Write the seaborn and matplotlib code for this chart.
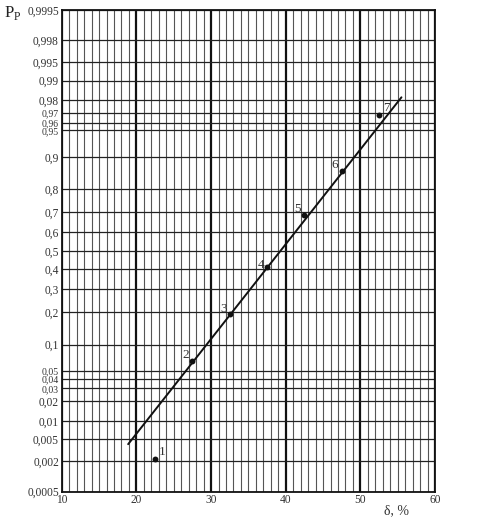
import numpy as np
import pandas as pd
import matplotlib
matplotlib.use("Agg")
import matplotlib.pyplot as plt
import seaborn as sns
from statistics import NormalDist

# ---- data ----
point_ids = ["1", "2", "3", "4", "5", "6", "7"]
delta_pts = [22.5, 27.5, 32.5, 37.5, 42.5, 47.5, 52.5]
prob_pts = [0.0022, 0.066, 0.195, 0.41, 0.685, 0.862, 0.968]
line_delta = [18.9, 55.5]
line_prob = [0.0041, 0.982]
y_ticks = [0.0005, 0.002, 0.005, 0.01, 0.02, 0.03, 0.04, 0.05, 0.1, 0.2, 0.3,
           0.4, 0.5, 0.6, 0.7, 0.8, 0.9, 0.95, 0.96, 0.97, 0.98, 0.99, 0.995,
           0.998, 0.9995]
y_labels = ["0,0005", "0,002", "0,005", "0,01", "0,02", "0,03", "0,04", "0,05",
            "0,1", "0,2", "0,3", "0,4", "0,5", "0,6", "0,7", "0,8", "0,9",
            "0,95", "0,96", "0,97", "0,98", "0,99", "0,995", "0,998", "0,9995"]
crowded_labels = ["0,03", "0,04", "0,05", "0,95", "0,96", "0,97"]
x_ticks = [10, 20, 30, 40, 50, 60]
label_offsets = [(5, 5), (-5, 4.5), (-4.5, 3), (-4.5, 1.5), (-5, 5), (-5, 4.5), (5, 5)]

sns.set_style("white")
plt.rcParams['font.family'] = ['Liberation Serif', 'DejaVu Serif']

_nd = NormalDist()
_ppf = np.vectorize(_nd.inv_cdf, otypes=[float])
_cdf = np.vectorize(_nd.cdf, otypes=[float])


def fwd(p):
    p = np.clip(np.asarray(p, dtype=float), 1e-12, 1 - 1e-12)
    return _ppf(p)


def inv(z):
    return _cdf(np.asarray(z, dtype=float))


fig = plt.figure(figsize=(4.96, 5.25), dpi=100)
ax = fig.add_axes([0.1244, 0.0638, 0.7527, 0.9172])
ax.set_yscale("function", functions=(fwd, inv))
ax.set_ylim(0.0005, 0.9995)
ax.set_xlim(10, 60)

# grid
ax.set_yticks(y_ticks)
ax.set_yticklabels(y_labels)
ax.set_xticks(x_ticks)
ax.set_xticklabels([str(v) for v in x_ticks])
ax.set_xticks(np.arange(10, 61, 1), minor=True)
ax.yaxis.set_minor_locator(matplotlib.ticker.NullLocator())
ax.grid(which="major", axis="y", color="#222222", linewidth=0.9)
ax.grid(which="major", axis="x", color="#111111", linewidth=1.6)
ax.grid(which="minor", axis="x", color="#555555", linewidth=0.8)
ax.set_axisbelow(True)
ax.tick_params(axis="both", which="both", length=0, labelsize=8.3, colors="#333333")
ax.tick_params(axis="y", pad=2)
ax.tick_params(axis="x", pad=2)
for t in ax.get_yticklabels():
    if t.get_text() in crowded_labels:
        t.set_fontsize(7.0)
for s in ax.spines.values():
    s.set_color("#111111")
    s.set_linewidth(1.3)

df_line = pd.DataFrame({"delta": line_delta, "p": line_prob})
sns.lineplot(data=df_line, x="delta", y="p", ax=ax, color="#111111", linewidth=1.4)
df_pts = pd.DataFrame({"delta": delta_pts, "p": prob_pts})
sns.scatterplot(data=df_pts, x="delta", y="p", ax=ax, color="#111111", s=18,
                edgecolor="#111111", linewidth=0, zorder=5)
for lab, xv, yv, off in zip(point_ids, delta_pts, prob_pts, label_offsets):
    ax.annotate(lab, (xv, yv), xytext=off, textcoords="offset points",
                fontsize=9.5, color="#333333", ha="center", va="center")

ax.set_xlabel("")
ax.set_ylabel("")
fig.text(0.008, 0.976, r"P$_{\mathregular{P}}$", fontsize=12, color="#222222",
         ha="left", va="center")
fig.text(0.80, 0.028, "δ, %", fontsize=10, color="#333333", ha="center", va="center")

fig.savefig("out.png", dpi=100)
